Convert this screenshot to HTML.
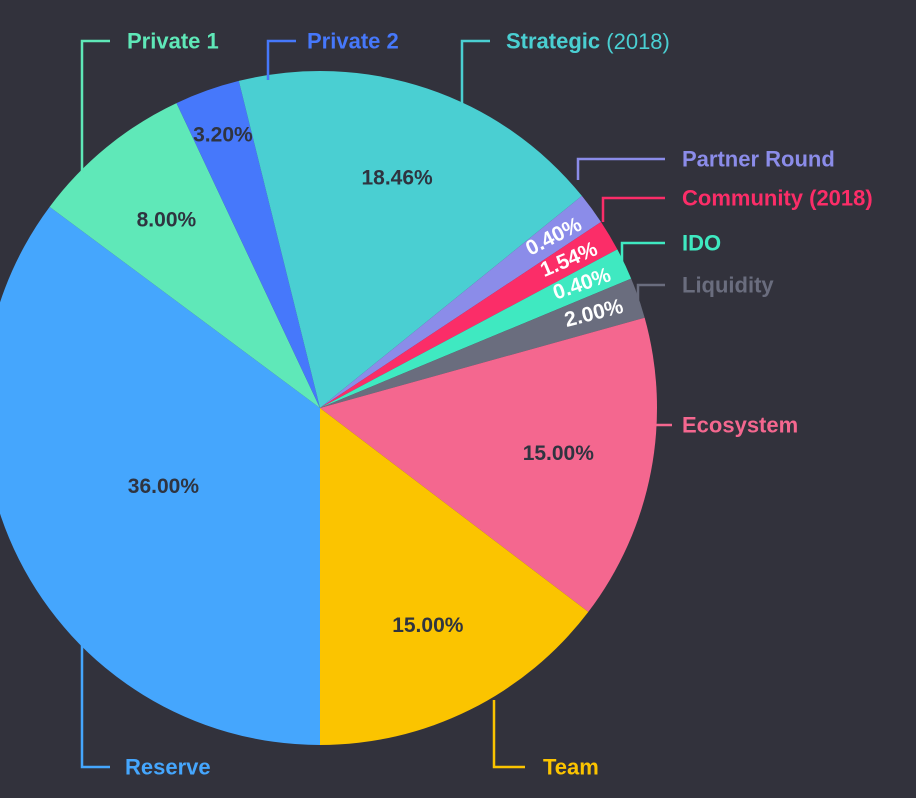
<!DOCTYPE html>
<html><head><meta charset="utf-8">
<style>
html,body{margin:0;padding:0;background:#32323c;width:916px;height:798px;overflow:hidden}
svg{display:block}
text{font-family:"Liberation Sans",sans-serif;font-weight:bold}
</style></head>
<body>
<svg id="chart" width="916" height="798" viewBox="0 0 916 798">
<g id="slices"></g>
<g id="pcts"></g>
<g id="legend"></g>
</svg>
<script>
const categories = ["Reserve","Private 1","Private 2","Strategic","Partner Round","Community (2018)","IDO","Liquidity","Ecosystem","Team"];
const values = [36.00,8.00,3.20,18.46,0.40,1.54,0.40,2.00,15.00,15.00];
const colors = ["#45a6fd","#5fe8b8","#4678fb","#4acfd2","#8b8ce9","#fb2d68","#3fe9c1","#6a6d7e","#f4678f","#fbc400"];
const startDeg = 180;
const minAngle = 5.5;
const cx=320, cy=408, R=337;
const NS="http://www.w3.org/2000/svg";
function pt(deg,r){const a=deg*Math.PI/180;return [cx+r*Math.sin(a), cy-r*Math.cos(a)];}
const total=values.reduce((a,b)=>a+b,0);
const raw=values.map(v=>v/total*360);
const isSmall=raw.map(a=>a<minAngle);
const smallSum=isSmall.filter(s=>s).length*minAngle;
const bigRaw=raw.reduce((s,a,i)=>s+(isSmall[i]?0:a),0);
const angles=raw.map((a,i)=>isSmall[i]?minAngle:a*(360-smallSum)/bigRaw);
const gS=document.getElementById('slices'), gP=document.getElementById('pcts');
let cur=startDeg;
values.forEach((v,i)=>{
  const sweep=angles[i], a0=cur, a1=cur+sweep; cur=a1;
  const p0=pt(a0,R), p1=pt(a1,R);
  const path=document.createElementNS(NS,'path');
  path.setAttribute('d',`M${cx},${cy} L${p0[0]},${p0[1]} A${R},${R} 0 ${sweep>180?1:0} 1 ${p1[0]},${p1[1]} Z`);
  path.setAttribute('fill',colors[i]);
  
  
  gS.appendChild(path);
  const mid=((a0+a1)/2)%360, small=v<5;
  const lp=pt(mid,R*(small?0.86:(v>30?0.52:0.72)));
  const t=document.createElementNS(NS,'text');
  t.setAttribute('x',lp[0]);t.setAttribute('y',lp[1]);
  t.setAttribute('text-anchor','middle');t.setAttribute('dominant-baseline','central');
  t.setAttribute('font-size','21');
  const white = small && v<3;
  t.setAttribute('fill',white?'#ffffff':'#2f3440');
  if(white){t.setAttribute('transform',`rotate(${(mid-90)*0.75} ${lp[0]} ${lp[1]})`);}
  t.textContent=v.toFixed(2)+'%';
  
  
  gP.appendChild(t);
});
const callouts=[
 {n:"Private 1",c:"#5fe8b8",tx:127,ty:41,path:"M82,175 V41 H110"},
 {n:"Private 2",c:"#4678fb",tx:307,ty:41,path:"M268,80 V41 H296"},
 {n:"Strategic",c:"#4acfd2",tx:506,ty:41,path:"M462,105 V41 H490",extra:"(2018)"},
 {n:"Partner Round",c:"#8b8ce9",tx:682,ty:159,path:"M578,180 V159 H665"},
 {n:"Community (2018)",c:"#fb2d68",tx:682,ty:198,path:"M603,222 V198 H665"},
 {n:"IDO",c:"#3fe9c1",tx:682,ty:243,path:"M622,262 V243 H665"},
 {n:"Liquidity",c:"#6a6d7e",tx:682,ty:285,path:"M638,300 V285 H665"},
 {n:"Ecosystem",c:"#f4678f",tx:682,ty:425,path:"M655,425 H672"},
 {n:"Team",c:"#fbc400",tx:543,ty:767,path:"M494,700 V767 H525"},
 {n:"Reserve",c:"#45a6fd",tx:125,ty:767,path:"M82,640 V767 H110"}
];
const gL=document.getElementById('legend');
callouts.forEach(o=>{
  const p=document.createElementNS(NS,'path');
  p.setAttribute('d',o.path);p.setAttribute('stroke',o.c);p.setAttribute('stroke-width','2.5');p.setAttribute('fill','none');
  
  
  gL.appendChild(p);
  const t=document.createElementNS(NS,'text');
  t.setAttribute('x',o.tx);t.setAttribute('y',o.ty);t.setAttribute('dominant-baseline','central');
  t.setAttribute('font-size','22');t.setAttribute('fill',o.c);
  t.textContent=o.n;
  if(o.extra){const s=document.createElementNS(NS,'tspan');s.setAttribute('font-weight','normal');s.textContent=' '+o.extra;t.appendChild(s);}
  
  
  gL.appendChild(t);
});
</script>
</body></html>
